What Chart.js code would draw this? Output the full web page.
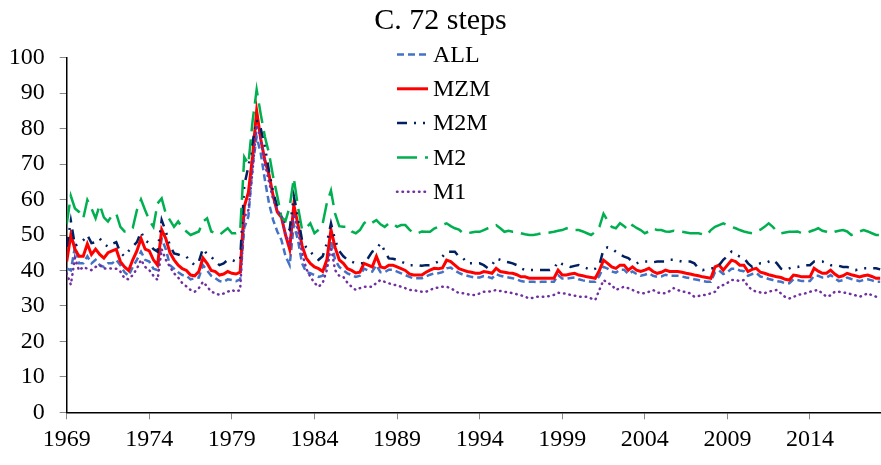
<!DOCTYPE html>
<html>
<head>
<meta charset="utf-8">
<script src="https://cdn.jsdelivr.net/npm/chart.js@4/dist/chart.umd.min.js"></script>
<style>
  html, body { margin: 0; padding: 0; background: #fff; }
  #wrap { width: 881px; height: 465px; }
</style>
</head>
<body>
<div id="wrap"><canvas id="steps72"></canvas></div>
<script>
// quarterly observations, first one at 1969 Q1
var startYear = 1969;
var tickYears = [1969, 1974, 1979, 1984, 1989, 1994, 1999, 2004, 2009, 2014];
var yTicks = [0, 10, 20, 30, 40, 50, 60, 70, 80, 90, 100];
var seriesNames = ["ALL", "MZM", "M2M", "M2", "M1"];

var allValues = [
  40.6, 40, 46.7, 42,  42, 44, 42, 43,  41.5, 41, 42, 42,  43, 41.5, 39.5, 38.5,
  41, 43, 45.3, 43,  42.5, 40.5, 40.1, 49,  46, 41.5, 40.5, 39.5,  38.7, 38.5, 37.5, 37.8,
  38, 41.5, 40, 38.5,  37.8, 37, 36.8, 37.5,  37.3, 37, 37.5, 52,  55.2, 69.3, 77.7, 73,
  65.5, 58.9, 54.2, 51,  48.6, 44, 41.5, 53,  48.6, 42, 39.5, 39.2,  38.7, 38.2, 38.5, 42,
  48.6, 43, 41, 40,  39.2, 38.7, 38.2, 38.5,  40.5, 40, 39.7, 41.5,  39.5, 39.5, 40.2, 40.2,
  39.7, 39.2, 38.7, 38.2,  37.8, 37.8, 37.8, 38.3,  38.8, 39.2, 39.2, 39.5,  40.6, 40.8, 40, 39.3,
  38.8, 38.5, 38.2, 38,  38, 38.4, 38.2, 37.8,  39, 38.5, 38.2, 38,  37.8, 37.5, 37, 36.8,
  36.8, 36.8, 36.7, 36.8,  36.8, 36.8, 36.8, 38.7,  37.7, 37.7, 37.9, 38,  37.5, 37.2, 37, 36.8,
  36.8, 38.5, 41, 40.5,  39.7, 39.4, 40.2, 40.2,  39, 39.7, 39, 38.5,  38.8, 39.2, 38.5, 38.2,
  38.3, 38.8, 38.5, 38.5,  38.5, 38.3, 38, 37.8,  37.5, 37.3, 37, 36.8,  36.8, 39.5, 40, 39,
  39.5, 40.5, 40.5, 40,  39.8, 38.5, 39, 39.3,  38.3, 38, 37.6, 37.3,  37, 36.8, 36.4, 36.4,
  37.5, 37.3, 37, 37,  37, 38.5, 38.5, 38,  38, 38.7, 37.8, 37,  37.3, 38, 37.6, 37.3,
  37, 37.3, 37.5, 37.2,  36.8, 36.8
];
var mzmValues = [
  42.5, 50, 46, 44,  44, 47.5, 44.5, 46,  44.5, 43.5, 45, 45.5,  46, 42.5, 41, 40,
  43, 45.5, 49, 46,  45.5, 43, 41.5, 51.5,  49, 45, 43, 41.5,  40.5, 40, 38.7, 38.5,
  39.7, 43.5, 42, 40,  39.7, 38.7, 39, 39.7,  39.2, 39, 39.5, 58,  62, 72, 85, 77,
  71, 67, 61, 56.5,  55, 50, 46, 58.5,  53, 47, 43.5, 42,  41, 40.5, 39.7, 43,
  51.5, 46.5, 43, 42,  40.5, 40, 39.3, 39.5,  42, 41.5, 41, 44,  41, 40.7, 41.5, 41.5,
  41, 40.5, 40, 39,  38.7, 38.7, 38.7, 39.5,  40.1, 40.6, 40.5, 40.7,  42.9, 42.5, 41.5, 40.5,
  40.1, 39.7, 39.5, 39.2,  39.2, 39.7, 39.5, 39.2,  40.6, 39.7, 39.5, 39.3,  39.2, 38.8, 38.2, 38.2,
  37.8, 37.8, 37.8, 37.8,  37.8, 37.8, 37.8, 40.1,  38.7, 38.7, 39, 39.2,  38.7, 38.5, 38.2, 38,
  37.8, 40, 42.9, 42,  41, 40.6, 41.5, 41.5,  40.1, 41, 40.1, 39.7,  40.1, 40.6, 39.7, 39.2,
  39.5, 40.1, 39.7, 39.7,  39.7, 39.5, 39.2, 39,  38.7, 38.5, 38.2, 38,  37.8, 41, 41.5, 40.1,
  41.5, 42.9, 42.5, 41.5,  41.5, 39.7, 40.3, 40.6,  39.5, 39.2, 38.8, 38.5,  38.2, 38, 37.5, 37.3,
  38.7, 38.5, 38.2, 38.2,  38.2, 40.6, 39.8, 39.2,  39.2, 40.1, 39, 38.2,  38.5, 39.2, 38.8, 38.5,
  38.2, 38.5, 38.7, 38.3,  37.8, 37.8
];
var m2mValues = [
  46.7, 54, 47, 47.5,  48.5, 50, 47.7, 48,  49, 47.5, 46.7, 47.5,  48, 45, 44, 45.5,
  46.7, 48, 50.9, 48.5,  47.7, 46, 45.3, 54.2,  51, 47, 44.8, 44.5,  44, 43.9, 42.5, 41.5,
  42.5, 46.2, 44.5, 43.9,  42.5, 41.5, 42, 43,  43, 42.5, 43, 64,  69.3, 76, 82.4, 80,
  74.9, 68, 62, 58,  55.5, 53, 51.5, 61,  55.2, 48.5, 46.5, 45.3,  44, 43, 44, 47.7,
  53.3, 48.6, 45.5, 44,  43, 42.5, 42, 42,  42, 43.5, 45.3, 46,  47.7, 45.5, 43.4, 43.3,
  43, 42.5, 42, 41.5,  41.5, 41.5, 41.3, 41.5,  41.5, 42, 42.5, 43.9,  45.3, 45.3, 45.3, 43.9,
  43.5, 42, 42, 42,  42, 41.5, 40.6, 41.5,  43.4, 43, 42.5, 42.3,  42, 41.5, 40.6, 40.1,
  40.1, 40.1, 40.1, 40.1,  40.1, 40.1, 40.5, 42.5,  41.8, 41.5, 41, 41.3,  41.5, 41, 40.6, 40.1,
  40.5, 41.5, 46, 46.5,  46.2, 45.3, 44.5, 43.9,  43.5, 42.5, 42, 42.5,  42.5, 42.5, 42.3, 42.5,
  42.5, 42.5, 43, 43,  42.8, 42.5, 42.5, 42.5,  42, 40.6, 40.1, 40.3,  40.6, 40.6, 41.5, 43,
  44, 45.3, 44.5, 43.9,  43.5, 42, 41, 41.5,  42, 42, 42.5, 43,  42, 40.5, 40.1, 40.6,
  41, 41, 41.3, 41.5,  41.5, 42.5, 42.5, 42.5,  42, 41.5, 41.5, 41.3,  41, 41, 40.5, 40.1,
  40.3, 40.6, 40.6, 40.6,  40.6, 40.3
];
var m2Values = [
  53, 61, 57.5, 56.5,  54.7, 59.9, 57.5, 54.7,  58.5, 55, 53.8, 55.6,  56, 52.3, 51, 51,
  52, 57, 60, 57,  54.2, 52.3, 58.9, 60.3,  56, 54.2, 52.3, 53.8,  52, 51, 50, 50.5,
  51, 53.8, 54.7, 51,  50.5, 50, 51, 51.9,  50.5, 50.5, 51, 72,  70, 82, 91, 84,
  77.7, 73, 66.4, 61,  55, 54, 58, 66,  58, 51.5, 52, 53.3,  50.5, 51.5, 53.3, 59,
  62.5, 56, 52.5, 52.3,  52.3, 51, 50.5, 51.4,  53.3, 54.2, 53.5, 54.2,  53, 52.3, 53.3, 53.3,
  52.3, 52.8, 52.8, 51.5,  50.5, 50.5, 51, 50.9,  50.9, 51.8, 52.3, 52.8,  53.3, 52.5, 51.9, 51.5,
  50.5, 50.5, 50.7, 50.9,  50.9, 51.4, 51.9, 52.3,  52.8, 51.9, 50.9, 51.2,  50.9, 50.9, 50.5, 50.2,
  50, 50, 50.2, 50.5,  50.5, 50.7, 50.9, 51.2,  51.4, 51.9, 51.5, 51.4,  51.4, 51, 50.5, 50,
  50.9, 52.3, 56, 54,  52.3, 51.9, 53.3, 52.5,  51.4, 52.8, 52, 51.4,  50.5, 51, 51.9, 51.4,
  51.4, 51, 50.9, 51.2,  51, 50.9, 50.7, 50.5,  50.5, 50.5, 50.2, 50,  51.4, 52.3, 52.8, 53.3,
  52.8, 52.3, 51.9, 51.4,  51, 50.7, 50.5, 51,  51.5, 52.3, 53.3, 52.3,  51, 50.5, 50.7, 50.9,
  50.9, 51, 50.5, 50.5,  51, 51.4, 51.9, 51.2,  50.9, 50.5, 50.9, 51.2,  51.4, 51, 50, 50.5,
  51, 51.4, 51, 50.5,  50, 50
];
var m1Values = [
  39.2, 36, 43.5, 40,  41, 40.5, 40.1, 41,  41.5, 40.5, 40.6, 40.5,  40.5, 39.7, 37.8, 37.5,
  38.7, 40.5, 43, 41,  40.1, 38.5, 37.3, 46,  43, 41, 39.2, 38,  36.4, 35.5, 34.5, 34,
  35, 36.8, 35.5, 34,  33.6, 33.1, 33.5, 34,  34.5, 34, 34.5, 55,  57, 68, 81, 77,
  70, 65, 60, 57,  55.2, 50, 47.7, 56,  51.4, 45, 40.5, 38.2,  36.5, 35.4, 36.5, 40.1,
  46.7, 40.1, 38.5, 38.2,  36.5, 35.4, 34.5, 35,  35.4, 35.4, 35.4, 36.5,  37.3, 36.8, 36.4, 36,
  35.8, 35.4, 35, 34.5,  34.5, 34.2, 34, 34,  34.5, 35, 35.2, 35.4,  35.4, 35, 34.3, 33.6,
  33.6, 33.3, 33.1, 33.1,  33.5, 34, 34, 34.2,  34.5, 34.2, 34, 33.8,  33.6, 33.3, 33, 32.6,
  32.1, 32.3, 32.6, 32.6,  32.6, 32.8, 33.1, 33.7,  33.6, 33.4, 33.1, 32.9,  32.6, 32.6, 32.6, 32.1,
  31.7, 34.5, 37.3, 36.5,  35.9, 34.5, 35, 35.4,  35, 34.5, 34, 33.6,  33.6, 34, 34.5, 33.8,
  33.6, 33.6, 34.2, 35,  34.5, 34, 34, 33.5,  32.6, 32.8, 33.1, 33.1,  33.6, 34, 35.5, 35.9,
  36.5, 37.3, 37.3, 37,  37.3, 35.5, 34.5, 34,  33.8, 33.6, 34, 34.3,  34.5, 33.5, 32.5, 32.1,
  32.5, 33.1, 33.3, 33.6,  34, 34.3, 34.5, 33.5,  32.6, 33, 34, 34,  33.8, 33.6, 33.3, 33,
  32.6, 33, 33.6, 33,  32.6, 32.6
];

var dates = [];
for (var i = 0; i < mzmValues.length; i++) {
  dates.push(startYear + i / 4);
}

var serif = "'Liberation Serif', 'Times New Roman', serif";

// legend drawn by hand so it can sit in the middle of the plot
var lineLegend = {
  id: "lineLegend",
  afterDraw: function (chart, args, opts) {
    var ctx = chart.ctx;
    ctx.save();
    ctx.font = "24px " + serif;
    ctx.textBaseline = "middle";
    ctx.fillStyle = "#000";
    chart.data.datasets.forEach(function (ds, i) {
      var y = opts.top + i * opts.rowGap;
      ctx.beginPath();
      ctx.strokeStyle = ds.borderColor;
      ctx.lineWidth = ds.borderWidth;
      ctx.lineCap = ds.borderCapStyle || "butt";
      ctx.setLineDash(ds.borderDash || []);
      ctx.moveTo(opts.left, y);
      ctx.lineTo(opts.left + opts.sample, y);
      ctx.stroke();
      ctx.setLineDash([]);
      ctx.fillText(ds.label, opts.left + opts.sample + 5, y + 1);
    });
    ctx.restore();
  },
};

var ctx = document.getElementById("steps72").getContext("2d");
var chart = new Chart(ctx, {
  type: "line",
  data: {
    labels: dates,
    datasets: [
      {
        label: seriesNames[0],
        data: allValues,
        borderColor: "#4472C4",
        borderWidth: 2.5,
        borderDash: [7, 4],
        order: 5,
      },
      {
        label: seriesNames[1],
        data: mzmValues,
        borderColor: "#FF0000",
        borderWidth: 3,
        order: 4,
      },
      {
        label: seriesNames[2],
        data: m2mValues,
        borderColor: "#002060",
        borderWidth: 2.5,
        borderDash: [10, 7, 2, 7, 2, 7],
        order: 3,
      },
      {
        label: seriesNames[3],
        data: m2Values,
        borderColor: "#00B050",
        borderWidth: 2.5,
        borderDash: [20, 8],
        order: 2,
      },
      {
        label: seriesNames[4],
        data: m1Values,
        borderColor: "#7030A0",
        borderWidth: 2.5,
        borderDash: [0.5, 5],
        borderCapStyle: "round",
        order: 1,
      },
    ],
  },
  options: {
    responsive: true,
    maintainAspectRatio: false,
    animation: false,
    layout: { padding: { left: 0, right: 0, top: 0, bottom: 0 } },
    elements: {
      point: { radius: 0 },
      line: { tension: 0, fill: false },
    },
    plugins: {
      legend: { display: false },
      tooltip: { enabled: false },
      title: {
        display: true,
        text: "C. 72 steps",
        color: "#000",
        font: { family: serif, size: 30, weight: "normal" },
        padding: { top: 3, bottom: 18.7 },
      },
      lineLegend: { left: 397, top: 54.5, rowGap: 34.3, sample: 31 },
    },
    scales: {
      x: {
        type: "linear",
        min: 1969,
        max: 2018.3,
        afterBuildTicks: function (scale) {
          scale.ticks = tickYears.map(function (v) { return { value: v }; });
        },
        afterFit: function (scale) { scale.height = 52.7; },
        ticks: {
          color: "#000",
          font: { family: serif, size: 24 },
          padding: 6,
          maxRotation: 0,
          autoSkip: false,
          callback: function (v) { return String(v); },
        },
        grid: { drawOnChartArea: false, drawTicks: true, tickLength: 7, color: "#888" },
        border: { display: true, color: "#000", width: 1.5 },
      },
      y: {
        min: 0,
        max: 100,
        afterBuildTicks: function (scale) {
          scale.ticks = yTicks.map(function (v) { return { value: v }; });
        },
        afterFit: function (scale) { scale.width = 66.7; },
        ticks: {
          color: "#000",
          font: { family: serif, size: 24 },
          padding: 15,
        },
        grid: { drawOnChartArea: false, drawTicks: true, tickLength: 7, color: "#888" },
        border: { display: true, color: "#000", width: 1.5 },
      },
    },
  },
  plugins: [lineLegend],
});
</script>
</body>
</html>
